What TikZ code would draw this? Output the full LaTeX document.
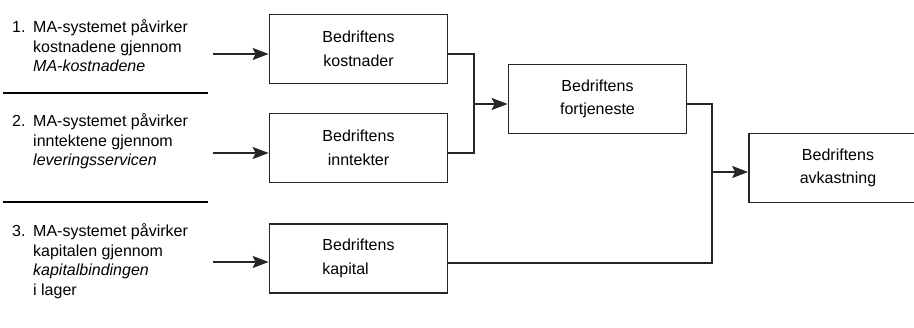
\documentclass[tikz,border=0pt]{standalone}
\usepackage{fontspec}
\setmainfont{Liberation Sans}
\usetikzlibrary{arrows.meta}
\begin{document}
\begin{tikzpicture}[x=1pt,y=-1pt,
  box/.style={draw=black!85, line width=1.7pt, minimum width=178pt,
    minimum height=69pt, inner sep=0pt, align=center,
    font=\fontsize{16}{23.5}\selectfont},
  link/.style={draw=black!85, line width=1.7pt},
  feed/.style={link, -{Stealth[length=16pt,width=12pt,inset=3pt]}},
  item/.style={anchor=north west, inner sep=0pt, align=left,
    font=\fontsize{16}{19.5}\selectfont},
  rule/.style={line width=2.6pt}
]
\clip (0,0) rectangle (914,328);

% effect boxes
\node[box] (cost)   at (358.5,49)   {Bedriftens\\kostnader};
\node[box] (inc)    at (358.5,148)  {Bedriftens\\inntekter};
\node[box, align=left] (cap) at (358.5,258.5) {Bedriftens\\kapital};
\node[box] (profit) at (597.5,99)   {Bedriftens\\fortjeneste};
\node[box] (ret)    at (838,168)    {Bedriftens\\avkastning};

% numbered explanations on the left
\node[item] (n1) at (12,19) {\strut 1.};
\node[item] (t1) at (33,19) {\strut MA-systemet påvirker\\kostnadene gjennom\\\textit{MA-kostnadene}};
\node[item] (n2) at (12,113) {\strut 2.};
\node[item] (t2) at (33,113) {\strut MA-systemet påvirker\\inntektene gjennom\\\textit{leveringsservicen}};
\node[item] (n3) at (12,223) {\strut 3.};
\node[item] (t3) at (33,223) {\strut MA-systemet påvirker\\kapitalen gjennom\\\textit{kapitalbindingen}\\i lager};

% separators between the explanations
\draw[rule] (3,93) -- (208,93);
\draw[rule] (3,202) -- (208,202);

% inputs
\coordinate (in1) at (213,54);
\coordinate (in2) at (213,153);
\coordinate (in3) at (213,262);
\draw[feed] (in1) -- (in1 -| cost.west);
\draw[feed] (in2) -- (in2 -| inc.west);
\draw[feed] (in3) -- (in3 -| cap.west);

% costs and income combine into profit
\coordinate (mergeA) at (474,104);
\draw[link] ([yshift=-5pt]cost.east) -| (mergeA) |- ([yshift=-5pt]inc.east);
\draw[feed] (mergeA) -- (mergeA -| profit.west);

% profit and capital combine into return
\coordinate (mergeB) at (712,172);
\draw[link] ([yshift=-5pt]profit.east) -| (mergeB) |- ([yshift=-4.5pt]cap.east);
\draw[feed] (mergeB) -- (mergeB -| ret.west);
\end{tikzpicture}
\end{document}
